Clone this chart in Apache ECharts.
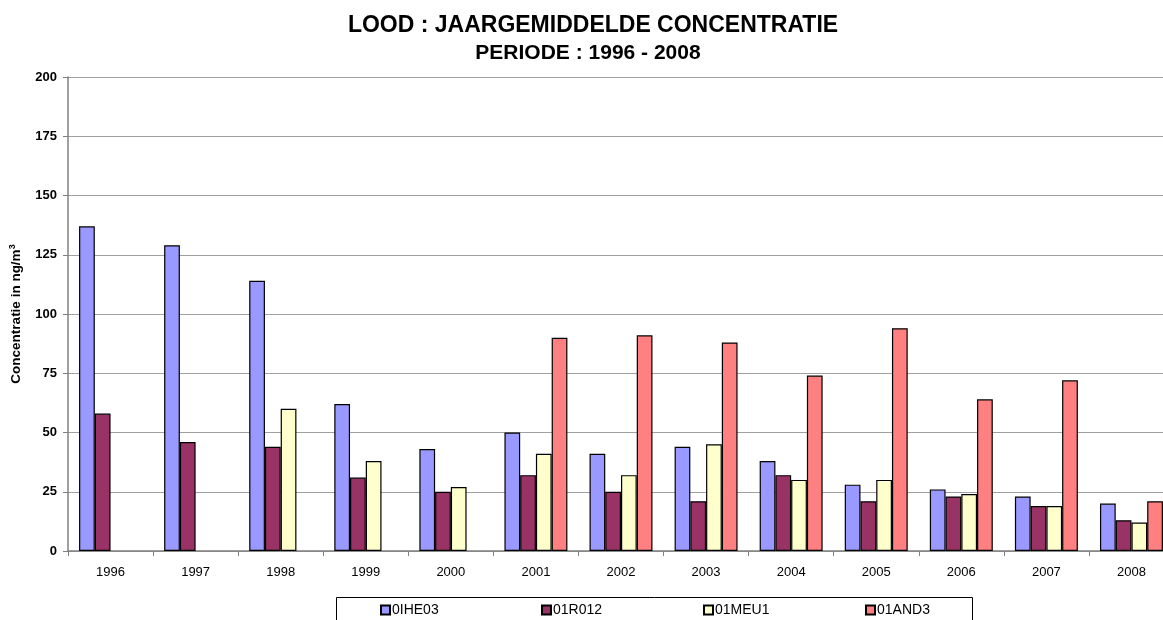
<!DOCTYPE html>
<html>
<head>
<meta charset="utf-8">
<script src="https://cdn.jsdelivr.net/npm/echarts@6/dist/echarts.min.js"></script>
<style>
html,body{margin:0;padding:0;background:#fff;overflow:hidden;}
#c{width:1163px;height:620px;}
</style>
</head>
<body>
<div id="c"></div>
<script>
const years = ['1996','1997','1998','1999','2000','2001','2002','2003','2004','2005','2006','2007','2008'];
const seriesNames = ['0IHE03','01R012','01MEU1','01AND3'];
const ihe03 = [137,129,114,62,43,50,41,44,38,28,26,23,20];
const r012  = [58,46,44,31,25,32,25,21,32,21,23,19,13];
const meu1  = [null,null,60,38,27,41,32,45,30,30,24,19,12];
const and3  = [null,null,null,null,null,90,91,88,74,94,64,72,21];
const yTicks = [0,25,50,75,100,125,150,175,200];
const colors = ['#9999FF','#993366','#FFFFCC','#FF8080'];
const values = [ihe03, r012, meu1, and3];
const legendLefts = [380, 541, 703, 865];

const font = 'Liberation Sans, Arial, sans-serif';
const chart = echarts.init(document.getElementById('c'), null, {renderer:'canvas'});
chart.setOption({
  animation:false,
  backgroundColor:'#fff',
  title:[
    {text:'LOOD : JAARGEMIDDELDE CONCENTRATIE', left:588, top:9, textAlign:'center',
     textStyle:{fontFamily:font, fontSize:23, fontWeight:'bold', color:'#000'}},
    {text:'PERIODE : 1996 - 2008', left:583, top:38, textAlign:'center',
     textStyle:{fontFamily:font, fontSize:21, fontWeight:'bold', color:'#000'}}
  ],
  graphic:[{type:'rect', shape:{x:336.5, y:597.5, width:636, height:40},
    style:{fill:'#fff', stroke:'#000', lineWidth:1}, z:-1}],
  legend: seriesNames.map((n,i)=>({
    data:[n], left:legendLefts[i], top:603, itemWidth:9, itemHeight:9,
    icon:'rect', padding:0,
    textStyle:{fontFamily:font, fontSize:14, color:'#000', padding:[0,0,0,-3]}
  })),
  grid:{left:68, top:77, bottom:69, right:-11, containLabel:false, outerBoundsMode:'none'},
  xAxis:{
    type:'category', data:years, boundaryGap:true,
    axisLine:{lineStyle:{color:'#808080', width:1.5}},
    axisTick:{show:true, length:5, inside:false, alignWithLabel:false, lineStyle:{color:'#808080', width:1}},
    axisLabel:{fontFamily:font, fontSize:13, color:'#000', margin:15}
  },
  yAxis:{
    type:'value', min:0, max:200, interval:25,
    name:'Concentratie in ng/m{s|3}', nameLocation:'middle', nameGap:43,
    nameTextStyle:{fontFamily:font, fontSize:13.5, fontWeight:'bold', color:'#000',
      rich:{s:{fontSize:9, fontWeight:'bold', verticalAlign:'top', padding:[0,0,8,0], color:'#000', fontFamily:font}}},
    axisLine:{show:true, lineStyle:{color:'#808080', width:1.5}},
    axisTick:{show:true, length:5, lineStyle:{color:'#808080'}},
    axisLabel:{fontFamily:font, fontSize:13, fontWeight:'bold', color:'#000', margin:11,
      formatter:function(v){return yTicks.indexOf(v)>=0 ? String(v) : '';}},
    splitLine:{show:true, lineStyle:{color:'#a0a0a0', width:1}}
  },
  series: seriesNames.map((n,i)=>({
    name:n, type:'bar', data:values[i], barGap:'0%', barCategoryGap:'26%',
    itemStyle:{color:colors[i], borderColor:'#000', borderWidth:1.2}
  }))
});
</script>
</body>
</html>
